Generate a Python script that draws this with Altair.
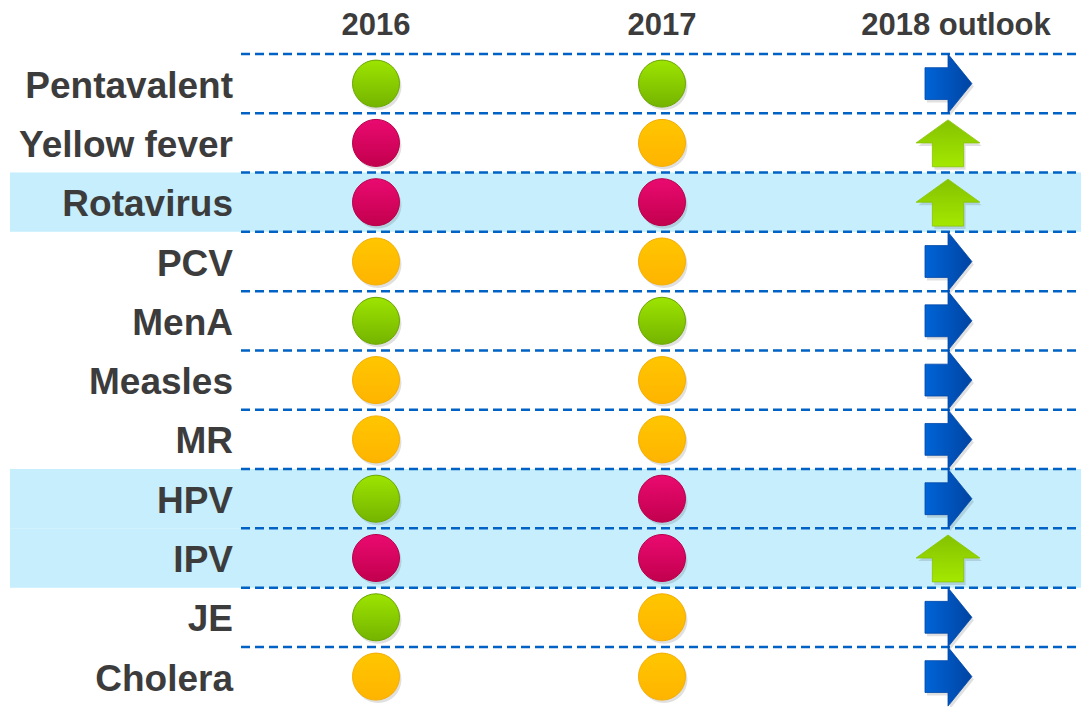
import altair as alt
import pandas as pd

vaccines = ["Pentavalent", "Yellow fever", "Rotavirus", "PCV", "MenA", "Measles",
            "MR", "HPV", "IPV", "JE", "Cholera"]
status_2016 = ["green", "red", "red", "amber", "green", "amber", "amber", "green", "red", "green", "amber"]
status_2017 = ["green", "amber", "red", "amber", "green", "amber", "amber", "red", "red", "amber", "amber"]
outlook_2018 = ["right", "up", "up", "right", "right", "right", "right", "right", "up", "right", "right"]
column_labels = ["2016", "2017", "2018 outlook"]
highlighted = ["Rotavirus", "HPV", "IPV"]

# layout (pixels of the plot area)
W, H = 1073, 699
X0, XSTEP = 368, 286
Y0, YSTEP = 75.6, 59.3

xs = alt.Scale(domain=[-X0 / XSTEP, (W - X0) / XSTEP], nice=False, zero=False)
ys = alt.Scale(domain=[-Y0 / YSTEP, (H - Y0) / YSTEP], nice=False, zero=False, reverse=True)

rows = pd.DataFrame({"vaccine": vaccines, "row": list(range(len(vaccines))),
                     "outlook": outlook_2018})
rows["hl"] = rows["vaccine"].isin(highlighted)

circ = pd.DataFrame({
    "row": list(range(len(vaccines))) * 2,
    "col": [0] * len(vaccines) + [1] * len(vaccines),
    "status": status_2016 + status_2017,
})
arrows = rows.assign(col=2)
headers = pd.DataFrame({"label": column_labels, "col": list(range(len(column_labels))), "row": -1})
lines = pd.DataFrame({"edge": [r - 0.5 for r in range(len(vaccines))]})

X = lambda f: alt.X(f, type="quantitative", scale=xs, axis=None)
Y = lambda f: alt.Y(f, type="quantitative", scale=ys, axis=None)

bands = alt.Chart(rows).transform_filter("datum.hl").transform_calculate(
    y1="datum.row - 0.5", y2="datum.row + 0.5"
).mark_rect(color="#c6eefc").encode(
    x=alt.value(2), x2=alt.value(W), y=Y("y1:Q"), y2="y2:Q"
)

rules = alt.Chart(lines).mark_rule(color="#0062c4", strokeWidth=2.5, strokeDash=[9, 5]).encode(
    x=alt.value(233), x2=alt.value(W), y=Y("edge:Q")
)

labels = alt.Chart(rows).mark_text(
    align="right", baseline="middle", font="Liberation Sans", fontWeight="bold",
    fontSize=37, color="#3c3c3c", dy=3
).encode(x=alt.value(225), y=Y("row:Q"), text="vaccine:N")

head = alt.Chart(headers).transform_calculate(
    hx="datum.col == 2 ? datum.col + 0.028 : datum.col"
).mark_text(
    align="center", baseline="middle", font="Liberation Sans", fontWeight="bold",
    fontSize=31, color="#3c3c3c", dy=2
).encode(x=X("hx:Q"), y=Y("row:Q"), text="label:N")


def vgrad(top, bottom):
    return alt.Gradient(gradient="linear", x1=0, y1=0, x2=0, y2=1,
                        stops=[alt.GradientStop(color=top, offset=0),
                               alt.GradientStop(color=bottom, offset=1)])


def hgrad(left, right):
    return alt.Gradient(gradient="linear", x1=0, y1=0, x2=1, y2=0,
                        stops=[alt.GradientStop(color=left, offset=0),
                               alt.GradientStop(color=right, offset=1)])


circle_styles = {
    "green": (vgrad("#9de400", "#74b400"), "#6aa600"),
    "red": (vgrad("#ea0a70", "#c2004e"), "#b8004a"),
    "amber": (vgrad("#ffc600", "#ffb400"), "#f5ad00"),
}

right_path = "M -0.78 -0.54 L 0 -0.54 L 0 -1 L 0.81 0 L 0 1 L 0 0.54 L -0.78 0.54 Z"
up_path = "M -0.53 0.81 L -0.53 0 L -1.08 0 L 0 -0.78 L 1.08 0 L 0.53 0 L 0.53 0.81 Z"
arrow_styles = {
    "right": (right_path, hgrad("#0064d8", "#0044a2"), "#0048aa"),
    "up": (up_path, vgrad("#84c200", "#a4e800"), "#86c400"),
}

layers = [bands, rules, labels, head]

# soft shadows
layers.append(
    alt.Chart(circ).mark_point(shape="circle", filled=True, fill="#000000",
                               opacity=0.12, size=2209).encode(
        x=X("col:Q"), y=Y("row:Q"), xOffset=alt.value(2), yOffset=alt.value(3))
)
for d, (path, fill, stroke) in arrow_styles.items():
    layers.append(
        alt.Chart(arrows).transform_filter(alt.datum.outlook == d).mark_point(
            shape=path, filled=True, fill="#000000", opacity=0.12, size=3481
        ).encode(x=X("col:Q"), y=Y("row:Q"), xOffset=alt.value(2), yOffset=alt.value(3))
    )

for st, (fill, stroke) in circle_styles.items():
    layers.append(
        alt.Chart(circ).transform_filter(alt.datum.status == st).mark_point(
            shape="circle", filled=True, fill=fill, stroke=stroke, strokeWidth=1,
            size=2209, opacity=1
        ).encode(x=X("col:Q"), y=Y("row:Q"))
    )

for d, (path, fill, stroke) in arrow_styles.items():
    layers.append(
        alt.Chart(arrows).transform_filter(alt.datum.outlook == d).mark_point(
            shape=path, filled=True, fill=fill, stroke=stroke, strokeWidth=0.8,
            size=3481, opacity=1
        ).encode(x=X("col:Q"), y=Y("row:Q"))
    )

chart = alt.layer(*layers).properties(
    width=W, height=H, padding=0, autosize=alt.AutoSizeParams(type="none"),
    background="white"
).configure_view(stroke=None)

chart.save("out.html", embed_options={"renderer": "svg", "actions": False})
